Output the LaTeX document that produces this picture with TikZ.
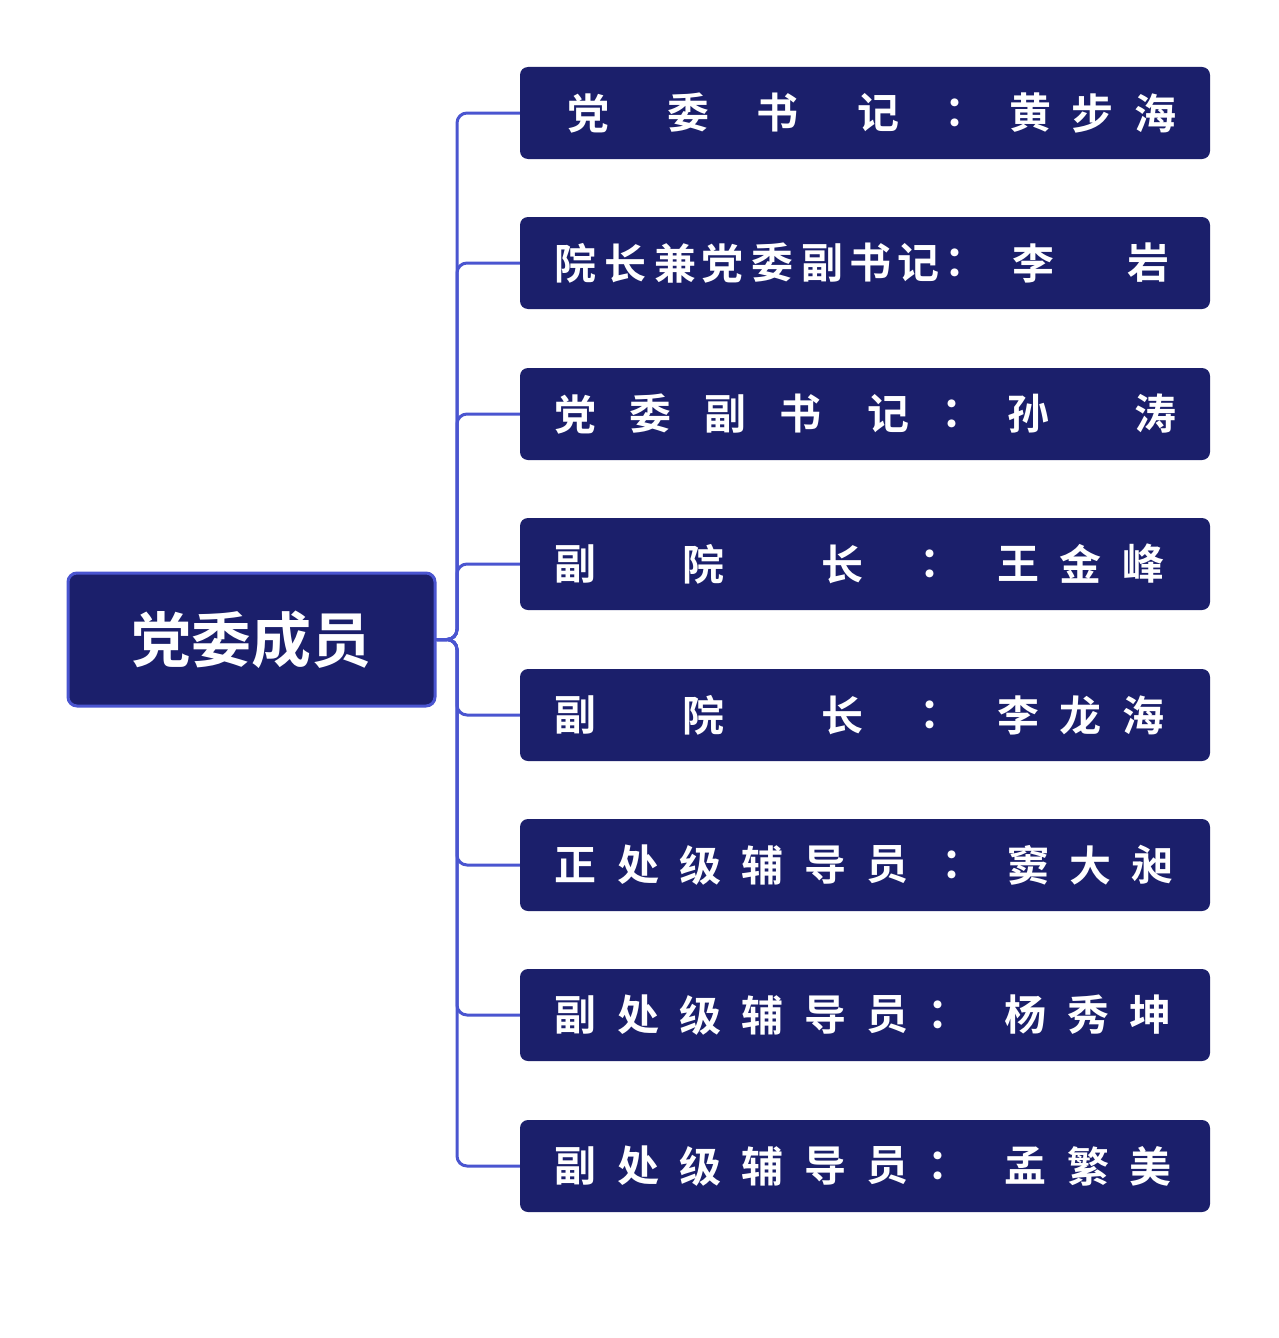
\documentclass[tikz,border=0pt]{standalone}
\usepackage{fontspec}
\newfontfamily\cjk{Noto Sans CJK SC Bold}
\definecolor{navy}{HTML}{1B1F6B}
\definecolor{edge}{HTML}{4A55D0}
\begin{document}
\begin{tikzpicture}[x=1pt,y=-1pt,
  leaf/.style={fill=navy,rounded corners=8pt,draw=none},
  ch/.style={text=white,font=\cjk\fontsize{42}{42}\selectfont,inner sep=0pt},
  conn/.style={draw=edge,line width=3pt,rounded corners=10pt}]
\useasboundingbox (0,0) rectangle (1278,1338);
\fill[white] (0,0) rectangle (1278,1338);
\node[draw=edge,line width=3pt,fill=navy,rounded corners=9pt,minimum width=367pt,minimum height=133pt,
  text=white,font=\cjk\fontsize{60}{60}\selectfont] (root) at (251.5,639.5) {党委成员};
\coordinate (j) at (457,639.5);
\foreach \i/\y in {1/113,2/263,3/414,4/564,5/715,6/865,7/1015,8/1166}{
  \node[leaf,minimum width=690pt,minimum height=92pt] (b\i) at (865,\y) {};
  \draw[conn] (root.east) -- (j) |- (b\i.west);
}
\newcommand\rowtxt[2]{\foreach \x/\c [count=\k] in {#2}{\node[ch] (t#1-\k) at (\x,0 |- b#1.center) {\c};}}
\rowtxt{1}{588/党,688/委,777/书,878/记,965/：,1030/黄,1092/步,1155/海}
\rowtxt{2}{575/院,625/长,675/兼,722/党,772/委,822/副,870/书,918/记,965/：,1033/李,1148/岩}
\rowtxt{3}{575/党,650/委,725/副,800/书,888/记,962/：,1028/孙,1155/涛}
\rowtxt{4}{575/副,703/院,842/长,940/：,1018/王,1080/金,1143/峰}
\rowtxt{5}{575/副,703/院,842/长,940/：,1018/李,1080/龙,1143/海}
\rowtxt{6}{575/正,638/处,700/级,762/辅,825/导,887/员,962/：,1028/窦,1090/大,1152/昶}
\rowtxt{7}{575/副,638/处,700/级,762/辅,825/导,887/员,948/：,1025/杨,1088/秀,1150/坤}
\rowtxt{8}{575/副,638/处,700/级,762/辅,825/导,887/员,948/：,1025/孟,1088/繁,1150/美}
\end{tikzpicture}
\end{document}
